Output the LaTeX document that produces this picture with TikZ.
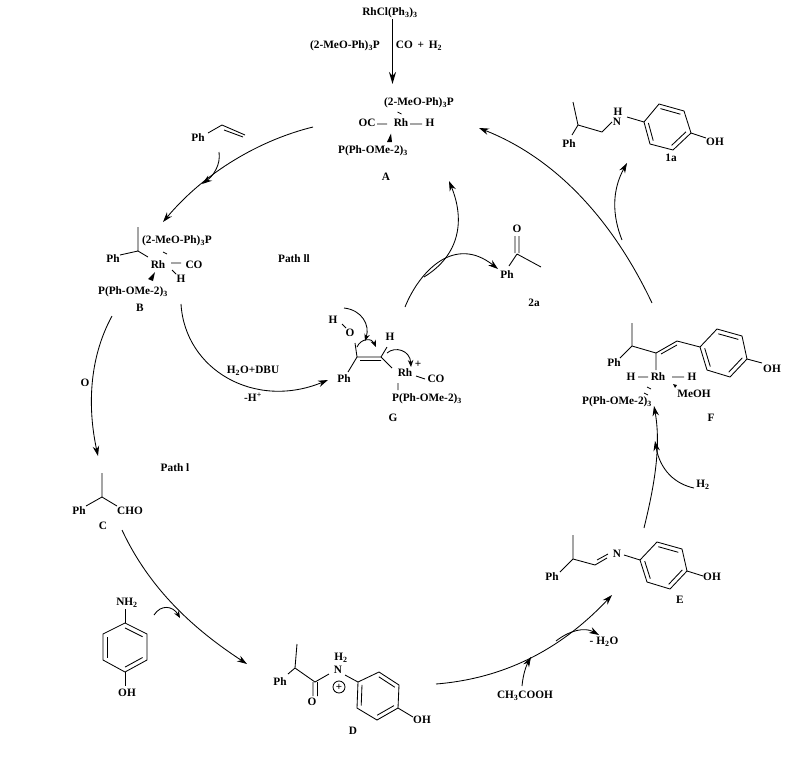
\documentclass[tikz,border=0pt]{standalone}
\usepackage{fontspec}
\setmainfont{Liberation Serif}
\usetikzlibrary{arrows.meta,calc}
\newcommand{\sbs}[1]{\textsubscript{#1}}
\newcommand{\hexring}[7]{%
  \coordinate (#1a) at #2; \coordinate (#1b) at #3; \coordinate (#1c) at #4;
  \coordinate (#1d) at #5; \coordinate (#1e) at #6; \coordinate (#1f) at #7;
  \coordinate (#1m) at ($(#1a)!.5!(#1d)$);
  \draw[bond] (#1a)--(#1b)--(#1c)--(#1d)--(#1e)--(#1f)--cycle;
  \draw[bond] ($(#1a)!.2!(#1m)$)--($(#1b)!.2!(#1m)$);
  \draw[bond] ($(#1c)!.2!(#1m)$)--($(#1d)!.2!(#1m)$);
  \draw[bond] ($(#1e)!.2!(#1m)$)--($(#1f)!.2!(#1m)$);
}
\tikzset{
  lab/.style={inner sep=0pt,font=\bfseries\fontsize{11.3}{13}\selectfont},
  bond/.style={line width=.85pt,black},
  arr/.style={line width=.85pt,-{Stealth[length=10pt,width=6.5pt]}},
  small/.style={line width=.85pt,-{Stealth[length=7pt,width=5.5pt]}},
  wedge/.style={fill=black,draw=none}
}
\begin{document}
\begin{tikzpicture}[x=1pt,y=-1pt]
\useasboundingbox (0,0) rectangle (793,756);
% ---- top
\node[lab] (pre) at (390,13) {RhCl(Ph\sbs{3})\sbs{3}};
\node[lab] (lig) at (345,46) {(2-MeO-Ph)\sbs{3}P};
\node[lab] (coh) at (419,46) {CO\, +\, H\sbs{2}};
% ---- A
\node[lab] (Aa) at (419,103) {(2-MeO-Ph)\sbs{3}P};
\node[lab] (Ab) at (367,123) {OC};
\node[lab] (Arh) at (401,123) {Rh};
\node[lab] (Ah) at (430,123) {H};
\node[lab] (Ap) at (373,151) {P(Ph-OMe-2)\sbs{3}};
\node[lab] (A) at (386,177) {A};
\coordinate (Atop) at (392.5,84);
\coordinate (Astart) at (392.5,19);
\draw[line width=1.8pt,-{Stealth[length=12pt,width=7pt]}] (Astart) -- (Atop);
\draw[bond] (377,124)--(387,124) (410,124)--(422,124) (397.5,112)--(401.5,114);
\fill[wedge] (391,133.5)--(387,142)--(392,142)--cycle;
% ---- styrene
\node[lab] (st) at (198,138) {Ph};
\draw[bond] (208,133)--(222,125)--(245,135) (224,130)--(243,137);
% ---- B
\node[lab] (Ba) at (177,241) {(2-MeO-Ph)\sbs{3}P};
\node[lab] (Bph) at (113,259) {Ph};
\node[lab] (Brh) at (158,265) {Rh};
\node[lab] (Bco) at (194,265) {CO};
\node[lab] (Bh) at (181,279) {H};
\node[lab] (Bp) at (133,292) {P(Ph-OMe-2)\sbs{3}};
\node[lab] (B) at (140,308) {B};
\draw[bond] (138,227)--(138,251)--(120,255) (138,251)--(148,257)
  (163,252)--(167,254) (171,263)--(181,263) (172,270)--(176,274);
\fill[wedge] (155,272)--(148,279)--(153,281)--cycle;
\node[lab] (pII) at (294,259) {Path ll};
\node[lab] (pI) at (175,468) {Path l};
\node[lab] (ox) at (85,383) {O};
% ---- C
\node[lab] (Cph) at (79,511) {Ph};
\node[lab] (Ccho) at (130,511) {CHO};
\node[lab] (C) at (103,526) {C};
\draw[bond] (102,473)--(102,497)--(86,506) (102,497)--(117,506);
% ---- aminophenol
\node[lab] (nh) at (127,603) {NH\sbs{2}};
\node[lab] (ohn) at (127,693) {OH};
\hexring{p}{(125,623)}{(147,634)}{(147,660)}{(125,672)}{(103,660)}{(103,634)}
\draw[bond] (125,609)--(pa) (pd)--(125,686);
% ---- D
\node[lab] (Dph) at (280,682) {Ph};
\node[lab] (Do) at (312,702) {O};
\node[lab] (Dn) at (338,670) {N};
\node[lab] (Dh) at (341,658) {H\sbs{2}};
\node[lab] (Doh) at (422,720) {OH};
\node[lab] (D) at (353,731) {D};
\node[draw,circle,line width=.85pt,minimum size=12pt,inner sep=0pt,font=\bfseries\fontsize{11}{11}\selectfont] (Dplus) at (339,687) {+};
\draw[bond] (297,644)--(295,668)--(288,674) (295,668)--(315,682)--(329,674)
  (313,682)--(313,696) (317.5,682)--(317.5,696) (345,675)--(358,682) (398,708)--(413,717);
\hexring{q}{(379,672)}{(399,685)}{(398,708)}{(377,720)}{(357,708)}{(358,682)}
% ---- E
\node[lab] (Eph) at (552,577) {Ph};
\node[lab] (En) at (617,554) {N};
\node[lab] (Eoh) at (712,577) {OH};
\node[lab] (E) at (680,600) {E};
\draw[bond] (573,535)--(573,559)--(560,572) (573,559)--(595,565)--(607,558) (597,560)--(608,554)
  (624,555)--(640,560) (687,571)--(703,576);
\hexring{r}{(657,542)}{(682,549)}{(687,571)}{(670,589)}{(647,582)}{(640,560)}
\node[lab] (acid) at (525,696) {CH\sbs{3}COOH};
\node[lab] (water) at (604,642) {- H\sbs{2}O};
% ---- F
\node[lab] (Fph) at (614,363) {Ph};
\node[lab] (Fh1) at (631,377) {H};
\node[lab] (Frh) at (658,377) {Rh};
\node[lab] (Fh2) at (692,377) {H};
\node[lab] (Fme) at (694,394) {MeOH};
\node[lab] (Fp) at (617,402) {P(Ph-OMe-2)\sbs{3}};
\node[lab] (Foh) at (772,369) {OH};
\node[lab] (F) at (711,418) {F};
\node[lab] (hh) at (703,485) {H\sbs{2}};
\draw[bond] (632,323)--(632,346)--(620,358) (632,346)--(656,353)--(677,341)
  (661,354)--(677,345) (656,353)--(656,370) (677,341)--(700,347) (747,359)--(762,363)
  (638,377)--(648,377) (672,377)--(684,377) (644,393)--(648,395) (647,387)--(651,389);
\fill[wedge] (673,384)--(677,385)--(675,388)--cycle;
\hexring{s}{(717,329)}{(742,336)}{(747,359)}{(730,377)}{(707,370)}{(700,347)}
% ---- 1a
\node[lab] (Iph) at (569,144) {Ph};
\node[lab] (Ih) at (618,112) {H};
\node[lab] (In) at (617,122) {N};
\node[lab] (Ioh) at (715,142) {OH};
\node[lab] (I) at (671,158) {1a};
\draw[bond] (573,102)--(578,125)--(572,135) (578,125)--(602,132)--(612,122) (627,117)--(644,122) (691,133)--(706,138);
\hexring{t}{(659,104)}{(684,111)}{(691,133)}{(673,150)}{(650,144)}{(644,122)}
% ---- 2a
\node[lab] (Ko) at (517,229) {O};
\node[lab] (Kph) at (507,275) {Ph};
\node[lab] (K) at (534,303) {2a};
\draw[bond] (515,236)--(515,253) (519,236)--(519,253) (517,254)--(509,266) (517,254)--(541,267);
% ---- G
\node[lab] (Gh) at (333,320) {H};
\node[lab] (Go) at (350,333) {O};
\node[lab] (Gph) at (344,379) {Ph};
\node[lab] (Gh2) at (390,337) {H};
\node[lab] (Grh) at (405,373) {Rh};
\node[lab] (Gco) at (436,379) {CO};
\node[lab] (Gplus) at (418,364) {+};
\node[lab] (Gp) at (427,399) {P(Ph-OMe-2)\sbs{3}};
\node[lab] (G) at (393,418) {G};
\draw[bond] (342,324)--(346,328) (355,343)--(357,357)--(381,357) (360,360.5)--(381,360.5)
  (357,357)--(348,372) (381,357)--(387,347) (381,357)--(392,368) (416,376)--(425,379) (398,383)--(398,390);
\node[lab] (Gl1) at (253,371) {H\sbs{2}O+DBU};
\node[lab] (Gl2) at (253,397) {-H\textsuperscript{+}};
% ---- arrow end points
\coordinate (a1) at (313,127); \coordinate (b1) at (163,222);
\coordinate (s1) at (219,152); \coordinate (s2) at (202,184);
\coordinate (b2) at (112,316); \coordinate (c1) at (98,456);
\coordinate (c2) at (122,530); \coordinate (d1) at (247,664);
\coordinate (n1) at (154,615); \coordinate (n2) at (180,618);
\coordinate (d2) at (436,684); \coordinate (e1) at (612,595);
\coordinate (ac) at (522,686); \coordinate (ac2) at (531,657);
\coordinate (w1) at (556,641); \coordinate (w2) at (599,635);
\coordinate (e2) at (644,528); \coordinate (f1) at (654,406);
\coordinate (h1) at (694,488); \coordinate (h2) at (655,441);
\coordinate (f2) at (652,303); \coordinate (a2) at (479,128);
\coordinate (i1) at (622,240); \coordinate (i2) at (627,163);
\coordinate (g1) at (424,277); \coordinate (a3) at (449,181);
\coordinate (g2) at (405,307); \coordinate (k1) at (498,269);
\coordinate (b3) at (181,304); \coordinate (g3) at (328,380);
\coordinate (m1) at (344,308); \coordinate (m2) at (365,341);
\coordinate (m3) at (357,347); \coordinate (m4) at (376,347);
\coordinate (m5) at (387,353); \coordinate (m6) at (411,367);
% ---- arrows
\draw[arr] (a1) .. controls (260,140) and (205,172) .. (b1);
\draw[arr] (s1) .. controls (221,165) and (213,176) .. (s2);
\draw[arr] (b2) .. controls (88,360) and (88,410) .. (c1);
\draw[arr] (c2) .. controls (150,590) and (195,630) .. (d1);
\draw[small] (n1) .. controls (161,604) and (173,606) .. (n2);
\draw[arr] (d2) .. controls (510,678) and (565,645) .. (e1);
\draw[arr] (ac) .. controls (523,675) and (526,666) .. (ac2);
\draw[arr] (w1) .. controls (570,630) and (585,627) .. (w2);
\draw[arr] (e2) .. controls (652,495) and (662,450) .. (f1);
\draw[arr] (h1) .. controls (675,484) and (660,470) .. (h2);
\draw[arr] (f2) .. controls (615,225) and (560,160) .. (a2);
\draw[arr] (i1) .. controls (612,215) and (612,190) .. (i2);
\draw[arr] (g1) .. controls (460,255) and (465,220) .. (a3);
\draw[arr] (g2) .. controls (420,270) and (455,235) .. (k1);
\draw[arr] (b3) .. controls (185,370) and (255,410) .. (g3);
\draw[small] (m1) .. controls (362,310) and (370,325) .. (m2);
\draw[small] (m3) .. controls (361,338) and (372,338) .. (m4);
\draw[small] (m5) .. controls (395,346) and (410,350) .. (m6);
\end{tikzpicture}
\end{document}
